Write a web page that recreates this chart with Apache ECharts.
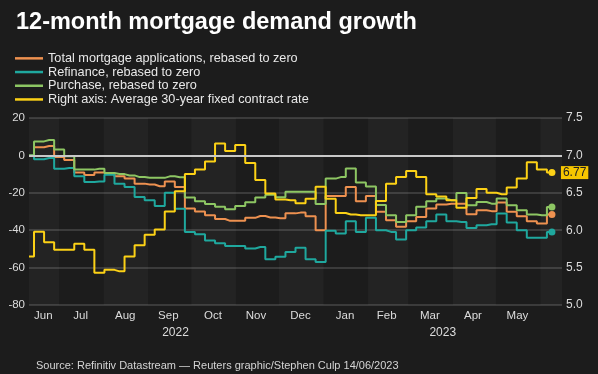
<!DOCTYPE html>
<html><head><meta charset="utf-8">
<script src="https://cdn.jsdelivr.net/npm/echarts@6/dist/echarts.min.js"></script>
<style>html,body{margin:0;padding:0;background:#1c1c1c;}#c{width:598px;height:374px;}</style>
</head><body><div id="c"></div>
<script>
// Weekly observation dates (week ending)
const dates = ['2022-06-10','2022-06-17','2022-06-24','2022-07-01','2022-07-08','2022-07-15','2022-07-22','2022-07-29',
'2022-08-05','2022-08-12','2022-08-19','2022-08-26','2022-09-02','2022-09-09','2022-09-16','2022-09-23','2022-09-30',
'2022-10-07','2022-10-14','2022-10-21','2022-10-28','2022-11-04','2022-11-11','2022-11-18','2022-11-25',
'2022-12-02','2022-12-09','2022-12-16','2022-12-23','2022-12-30',
'2023-01-06','2023-01-13','2023-01-20','2023-01-27','2023-02-03','2023-02-10','2023-02-17','2023-02-24',
'2023-03-03','2023-03-10','2023-03-17','2023-03-24','2023-03-31','2023-04-07','2023-04-14','2023-04-21','2023-04-28',
'2023-05-05','2023-05-12','2023-05-19','2023-05-26','2023-06-02','2023-06-09'];

const totalApps = [0,4.4,5.0,-0.8,-2.5,-9.2,-10.5,-9.2,-9.8,-11.2,
-12.4,-15.1,-15.6,-16.5,-13.9,-16.9,-28.4,-30,-32,-34,
-35,-35,-33.4,-32.4,-33.2,-33.6,-31,-30.6,-32.5,-40,
-21.7,-21.7,-16.9,-24.5,-21.7,-30.2,-34.7,-38.2,-35.2,-32.9,
-28.4,-26.3,-25.8,-25.8,-31.5,-29.3,-29.8,-25.2,-30.2,-32.5,
-35.2,-36.4,-31.6];

const refinance = [0,-2.1,-1.4,-7.1,-6.8,-11.2,-14.2,-13.9,-10.3,-15.1,
-16.9,-22.2,-24,-27,-20,-28.5,-41,-42.2,-45.5,-47,
-48.5,-48.5,-49.8,-49,-55.5,-54.2,-51.6,-49.4,-55.5,-57,
-40.3,-41.8,-35.2,-40.9,-33.4,-40,-40.9,-45,-40,-38.5,
-35.2,-31.6,-35.2,-35.6,-38.8,-37.3,-36.8,-31.1,-35.9,-40,
-44.1,-44.1,-40.9];

const purchase = [0,7.5,8.2,3.2,-0.4,-7.6,-7.6,-7.1,-9.4,-10,
-10.7,-11.6,-12,-12,-11.2,-11.7,-22.5,-24.5,-26,-27.5,
-28.8,-27,-25,-22.5,-21,-22.4,-19.4,-19.4,-19.4,-26,
-12.4,-11.6,-7,-14.5,-16.6,-26.5,-32,-35.6,-32,-27.5,
-24.5,-23.1,-24,-20.1,-26.7,-24.9,-25.8,-23.1,-26.7,-29.3,
-31.6,-32,-27.6];

const rate30y = [5.65,5.98,5.84,5.74,5.74,5.82,5.74,5.43,5.47,5.45,
5.65,5.80,5.94,6.01,6.25,6.52,6.75,6.81,6.92,7.16,
7.06,7.14,6.90,6.67,6.49,6.41,6.40,6.36,6.42,6.58,
6.42,6.23,6.21,6.20,6.20,6.39,6.62,6.71,6.79,6.71,
6.48,6.45,6.40,6.30,6.43,6.55,6.50,6.48,6.57,6.69,
6.91,6.81,6.77];

const seriesNames = ['Total mortgage applications, rebased to zero','Refinance, rebased to zero','Purchase, rebased to zero','Right axis: Average 30-year fixed contract rate'];

const monthLabelDates = ['2022-06-20','2022-07-16','2022-08-16','2022-09-15','2022-10-16','2022-11-15','2022-12-16','2023-01-16','2023-02-14','2023-03-16','2023-04-15','2023-05-16'];
const monthLabels = ['Jun','Jul','Aug','Sep','Oct','Nov','Dec','Jan','Feb','Mar','Apr','May'];
const yearLabelDates = ['2022-09-20','2023-03-25'];
const yearLabels = ['2022','2023'];
const lightMonthBands = [['2022-06-10','2022-07-01'],['2022-08-01','2022-09-01'],['2022-10-01','2022-11-01'],['2022-12-01','2023-01-01'],['2023-02-01','2023-03-01'],['2023-04-01','2023-05-01'],['2023-06-01','2023-06-16']];
const xMin = '2022-06-10', xMax = '2023-06-16';

const ts = s => new Date(s + 'T00:00:00Z').getTime();
const monthMap = {}; monthLabelDates.forEach((d,i)=>monthMap[ts(d)] = monthLabels[i]);
const yearMap = {}; yearLabelDates.forEach((d,i)=>yearMap[ts(d)] = yearLabels[i]);

const FONT = '"Liberation Sans", Arial, sans-serif';
const colors = ['#ee9150','#1fa89e','#8dc663','#fcd116'];
const last = dates.length - 1;

function mk(idx, values, yIdx, extra) {
  return Object.assign({
    name: seriesNames[idx], type: 'line', step: 'middle', yAxisIndex: yIdx,
    data: dates.map((d,i)=>[ts(d), values[i]]),
    lineStyle: {color: colors[idx], width: 2},
    itemStyle: {color: colors[idx]},
    symbol: 'circle', showSymbol: true, showAllSymbol: true,
    symbolSize: (v, p) => p.dataIndex === last ? 7 : 0,
    emphasis: {disabled: true}, animation: false
  }, extra || {});
}

const chart = echarts.init(document.getElementById('c'), null, {renderer: 'canvas'});
chart.setOption({
  backgroundColor: '#1c1c1c',
  animation: false,
  textStyle: {fontFamily: FONT},
  title: [
    {text: '12-month mortgage demand growth', left: 11, top: 6,
     textStyle: {color: '#ffffff', fontSize: 23.5, fontWeight: 'bold', fontFamily: FONT}},
    {text: 'Source: Refinitiv Datastream \u2014 Reuters graphic/Stephen Culp 14/06/2023', left: 31, top: 355,
     textStyle: {color: '#d4d4d4', fontSize: 11, fontWeight: 'normal', fontFamily: FONT}}
  ],
  legend: {
    data: seriesNames, orient: 'vertical', left: 15, top: 51.5, padding: 0, itemGap: 0,
    icon: 'rect', itemWidth: 28, itemHeight: 2.5, selectedMode: false,
    textStyle: {color: '#e8e8e8', fontSize: 12.7, lineHeight: 13.7, fontFamily: FONT}
  },
  grid: {left: 29, right: 36, top: 118, bottom: 69},
  xAxis: [
    {type: 'value', min: ts(xMin), max: ts(xMax), scale: true,
     axisLine: {show: false}, axisTick: {show: false}, splitLine: {show: false},
     axisLabel: {customValues: monthLabelDates.map(ts), formatter: v => monthMap[v] || '',
                 color: '#dcdcdc', fontSize: 11.5, margin: 5, fontFamily: FONT, hideOverlap: false,
                 showMinLabel: true, showMaxLabel: true}},
    {type: 'value', min: ts(xMin), max: ts(xMax), scale: true, position: 'bottom', offset: 17,
     axisLine: {show: false}, axisTick: {show: false}, splitLine: {show: false},
     axisLabel: {customValues: yearLabelDates.map(ts), formatter: v => yearMap[v] || '',
                 color: '#dcdcdc', fontSize: 12, margin: 5, fontFamily: FONT}}
  ],
  yAxis: [
    {type: 'value', min: -80, max: 20, interval: 20, position: 'left',
     axisLine: {show: false}, axisTick: {show: false},
     axisLabel: {color: '#dcdcdc', fontSize: 11.5, margin: 4, fontFamily: FONT},
     splitLine: {lineStyle: {color: '#464646', width: 1.5}}},
    {type: 'value', min: 5, max: 7.5, interval: 0.5, position: 'right',
     axisLine: {show: false}, axisTick: {show: false},
     axisLabel: {color: '#dcdcdc', fontSize: 12, margin: 4, fontFamily: FONT, formatter: v => v.toFixed(1)},
     splitLine: {show: false}}
  ],
  series: [
    mk(0, totalApps, 0, {
      markArea: {silent: true, itemStyle: {color: 'rgba(255,255,255,0.03)'},
        data: lightMonthBands.map(b => [{xAxis: ts(b[0])}, {xAxis: ts(b[1])}])},
      markLine: {silent: true, symbol: 'none', label: {show: false},
        lineStyle: {color: '#c8c8c8', width: 2, type: 'solid'}, data: [{yAxis: 0}]}
    }),
    mk(1, refinance, 0),
    mk(2, purchase, 0),
    mk(3, rate30y, 1, {
      endLabel: {show: true, formatter: () => rate30y[last].toFixed(2), backgroundColor: '#f7c600',
        color: '#222', fontSize: 12, padding: [1, 2, 0, 2], distance: 9, fontFamily: FONT}
    })
  ]
});
</script></body></html>
